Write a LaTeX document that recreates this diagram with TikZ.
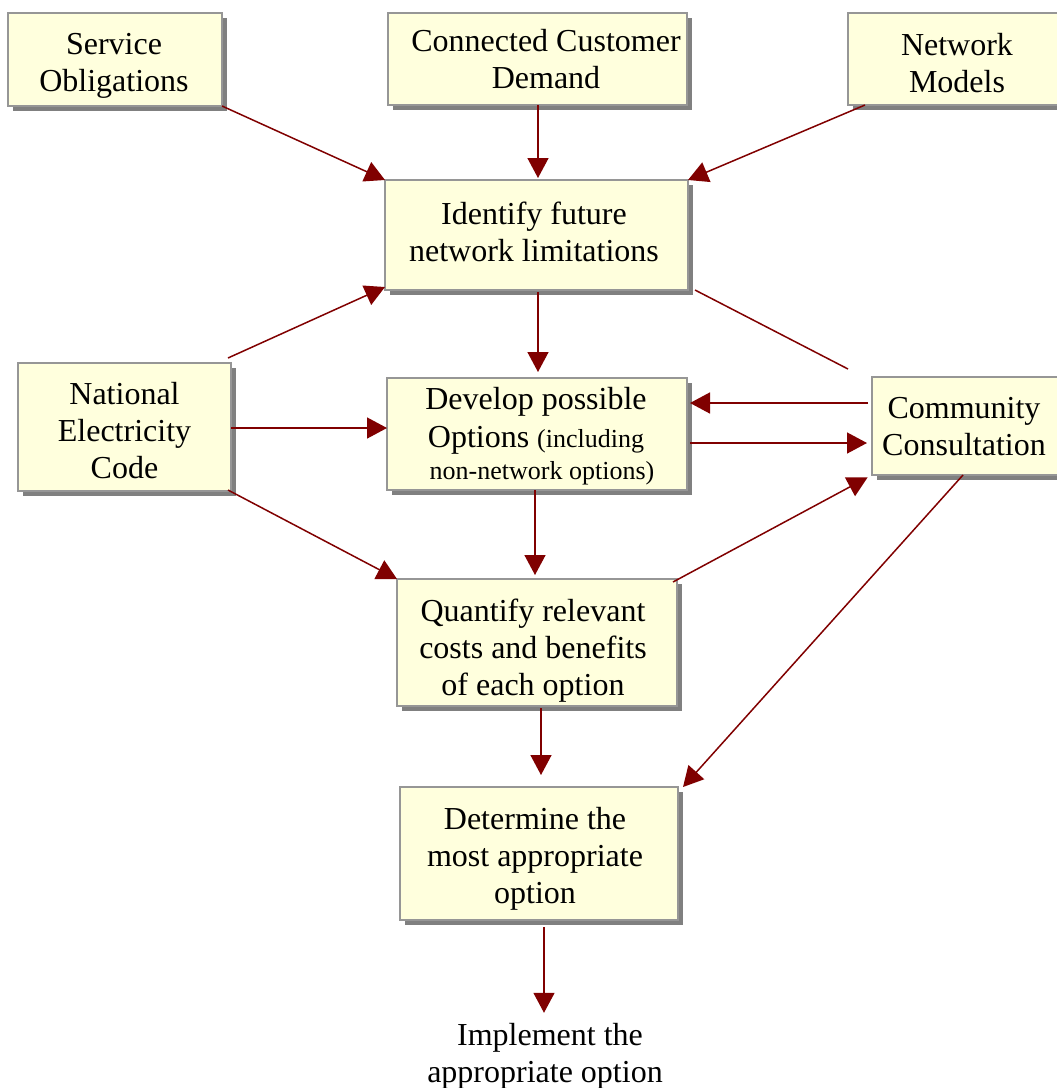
\documentclass[tikz,border=0pt]{standalone}
\usepackage{fontspec}
\setmainfont{Liberation Serif}
\usetikzlibrary{arrows.meta,calc,shadows}
\definecolor{boxfill}{RGB}{255,255,221}
\definecolor{boxline}{RGB}{150,150,150}
\definecolor{shadowgray}{RGB}{128,128,128}
\definecolor{flow}{RGB}{128,0,0}
\tikzset{
  procbox/.style={draw=boxline, line width=1.5pt, fill=boxfill,
    inner sep=0pt, outer sep=0pt,
    drop shadow={shadow xshift=5pt, shadow yshift=-5pt, fill=shadowgray, opacity=1}},
  boxtext/.style={align=center, inner sep=0pt, font=\fontsize{32}{37}\selectfont},
  flowline/.style={draw=flow, line width=1.5pt},
  flowarrow/.style={flowline, -{Triangle[length=20pt,width=21pt]}},
}
\begin{document}
\begin{tikzpicture}[x=1pt, y=-1pt]
  \useasboundingbox (0,0) rectangle (1057,1088);
  \clip (0,0) rectangle (1057,1088);

  % input boxes along the top
  \node[procbox, minimum width=214pt, minimum height=93pt] (svc) at (115,59.5) {};
  \node[boxtext] (svc-t) at (114,66) {Service\\Obligations};
  \node[procbox, minimum width=299pt, minimum height=92pt] (ccd) at (537.5,59) {};
  \node[boxtext] (ccd-t) at (546,59) {Connected Customer\\Demand};
  \node[procbox, minimum width=218pt, minimum height=92pt] (nm) at (957,59) {};
  \node[boxtext] (nm-t) at (957,63) {Network\\Models};

  % main process chain
  \node[procbox, minimum width=303pt, minimum height=110pt] (id) at (536.5,235) {};
  \node[boxtext] (id-t) at (534,231.5) {Identify future\\network limitations};
  \node[procbox, minimum width=213pt, minimum height=128pt] (nec) at (124.5,427) {};
  \node[boxtext] (nec-t) at (124.5,431) {National\\Electricity\\Code};
  \node[procbox, minimum width=300pt, minimum height=112pt] (dev) at (537,434) {};
  \node[boxtext] (dev-t) at (536,436)
    {Develop possible\\[1pt] Options {\fontsize{26}{30}\selectfont (including}\\[-5pt]
     {\fontsize{26}{30}\selectfont\hspace*{12pt}non-network options)}};
  \node[procbox, minimum width=190pt, minimum height=98pt] (cc) at (967,426) {};
  \node[boxtext] (cc-t) at (964,427) {Community\\Consultation};
  \node[procbox, minimum width=280pt, minimum height=127pt] (qc) at (537,642.5) {};
  \node[boxtext] (qc-t) at (533,651) {Quantify relevant\\costs and benefits\\of each option};
  \node[procbox, minimum width=278pt, minimum height=133pt] (det) at (539,853.5) {};
  \node[boxtext] (det-t) at (535,859) {Determine the\\most appropriate\\option};
  \node[boxtext] (impl) at (545,1056) {\hspace*{10pt}Implement the\\appropriate option};

  % inputs into the identification step
  \draw[flowarrow] (svc.south east) -- (id.north west);
  \draw[flowarrow, shorten >=2pt] ([xshift=0.5pt]ccd.south) -- ([xshift=1.5pt]id.north);
  \draw[flowarrow] ([xshift=17pt]nm.south west) -- (id.north east);

  % national electricity code feeds three steps
  \draw[flowarrow] ([xshift=-3pt,yshift=5pt]nec.north east) -- ([yshift=3pt]id.south west);
  \draw[flowarrow] ([yshift=-1pt]nec.east) -- ([yshift=6pt]dev.west);
  \draw[flowarrow] ([xshift=-3pt,yshift=1pt]nec.south east) -- (qc.north west);

  % chain down the middle
  \draw[flowarrow, shorten >=6pt] ([xshift=1.5pt,yshift=-2pt]id.south) -- ([xshift=1pt]dev.north);
  \draw[flowarrow, shorten >=4pt] ([xshift=-2pt]dev.south) -- ([xshift=-2pt]qc.north);
  \draw[flowarrow, shorten >=12pt] ([xshift=4pt,yshift=-2pt]qc.south) -- ([xshift=2pt]det.north);
  \draw[flowarrow, shorten >=10pt] ([xshift=5pt,yshift=-7pt]det.south) -- ([xshift=-1pt]impl.north);

  % community consultation links
  \coordinate (ccend) at ([xshift=-24pt,yshift=8pt]cc.north west);
  \draw[flowline] ([xshift=7pt]id.south east) -- (ccend);
  \draw[flowarrow] ([xshift=-4pt,yshift=23pt]cc.west) -- ([xshift=3pt,yshift=31pt]dev.east);
  \draw[flowarrow, shorten >=5pt] ([xshift=3pt,yshift=-9pt]dev.east) -- ([yshift=-17pt]cc.west);
  \draw[flowarrow, shorten >=5pt] ([xshift=-4pt,yshift=-3pt]qc.north east) -- (cc.south west);
  \draw[flowarrow] ([xshift=-4pt]cc.south) -- ([xshift=5pt]det.north east);
\end{tikzpicture}
\end{document}
